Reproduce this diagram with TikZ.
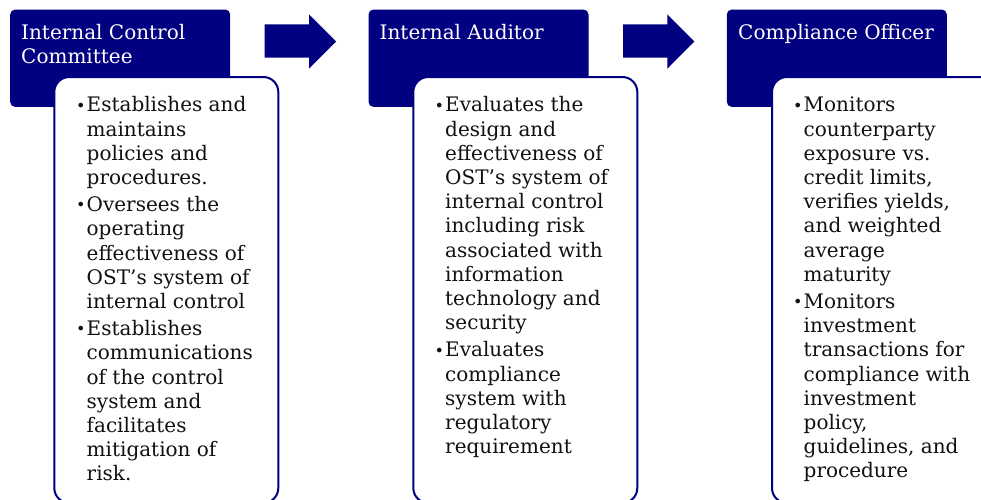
\documentclass[tikz,border=0pt]{standalone}
\usepackage{fontspec}
\setmainfont{DejaVu Serif}
\definecolor{navy}{HTML}{000080}
\definecolor{ink}{HTML}{111111}
\newcommand{\bul}{\makebox[10.5pt][l]{\raisebox{0.8pt}{\fontsize{16}{16}\selectfont\textbullet}}}
\newcommand{\ind}{\hspace*{10.5pt}}
\newcommand{\gap}{\\[3pt]}
\begin{document}
\begin{tikzpicture}[x=1pt,y=-1pt,
  hdr/.style={draw=none,fill=navy,rounded corners=5pt,minimum width=220pt,minimum height=97.4pt,inner sep=0pt,anchor=north west},
  card/.style={draw=navy,line width=2pt,fill=white,rounded corners=15pt,minimum width=224pt,minimum height=426pt,inner sep=0pt,anchor=north west},
  htxt/.style={text=white,inner sep=0pt,anchor=north west,font=\fontsize{20}{24.2}\selectfont},
  body/.style={text=ink,inner sep=0pt,anchor=north west,font=\fontsize{20}{24.2}\selectfont},
  flow/.style={fill=navy,draw=none}]
\useasboundingbox (0,0) rectangle (981,499);
\clip (0,0) rectangle (981,499);
% headers
\node[hdr] (h1) at (10,9.3) {};
\node[hdr] (h2) at (368.3,9.3) {};
\node[hdr] (h3) at (726.6,9.3) {};
% cards
\node[card] (c1) at (53.3,76) {};
\node[card] (c2) at (412.3,76) {};
\node[card] (c3) at (771,76) {};
% arrows
\draw[flow] (264.7,24.3) -- (309,24.3) -- (309,14.3) -- (336,41.5) -- (309,68.7) -- (309,57.7) -- (264.7,57.7) -- cycle;
\draw[flow] (623,24.3) -- (667.3,24.3) -- (667.3,14.3) -- (694.3,41.5) -- (667.3,68.7) -- (667.3,57.7) -- (623,57.7) -- cycle;
% header labels
\node[htxt] (l1) at (21,22.1) {\begin{tabular}{@{}l@{}}Internal Control\\Committee\end{tabular}};
\node[htxt] (l2) at (379.5,22.1) {\begin{tabular}{@{}l@{}}Internal Auditor\end{tabular}};
\node[htxt] (l3) at (738,22.1) {\begin{tabular}{@{}l@{}}Compliance Officer\end{tabular}};
% body texts
\node[body] (t1) at (76,94.8) {\begin{tabular}{@{}l@{}}
\bul Establishes and\\\ind maintains\\\ind policies and\\\ind procedures.\gap
\bul Oversees the\\\ind operating\\\ind effectiveness of\\\ind OST’s system of\\\ind internal control\gap
\bul Establishes\\\ind communications\\\ind of the control\\\ind system and\\\ind facilitates\\\ind mitigation of\\\ind risk.
\end{tabular}};
\node[body] (t2) at (434.5,94.8) {\begin{tabular}{@{}l@{}}
\bul Evaluates the\\\ind design and\\\ind effectiveness of\\\ind OST’s system of\\\ind internal control\\\ind including risk\\\ind associated with\\\ind information\\\ind technology and\\\ind security\gap
\bul Evaluates\\\ind compliance\\\ind system with\\\ind regulatory\\\ind requirement
\end{tabular}};
\node[body] (t3) at (793,94.8) {\begin{tabular}{@{}l@{}}
\bul Monitors\\\ind counterparty\\\ind exposure vs.\\\ind credit limits,\\\ind verifies yields,\\\ind and weighted\\\ind average\\\ind maturity\gap
\bul Monitors\\\ind investment\\\ind transactions for\\\ind compliance with\\\ind investment\\\ind policy,\\\ind guidelines, and\\\ind procedure
\end{tabular}};
\end{tikzpicture}
\end{document}
